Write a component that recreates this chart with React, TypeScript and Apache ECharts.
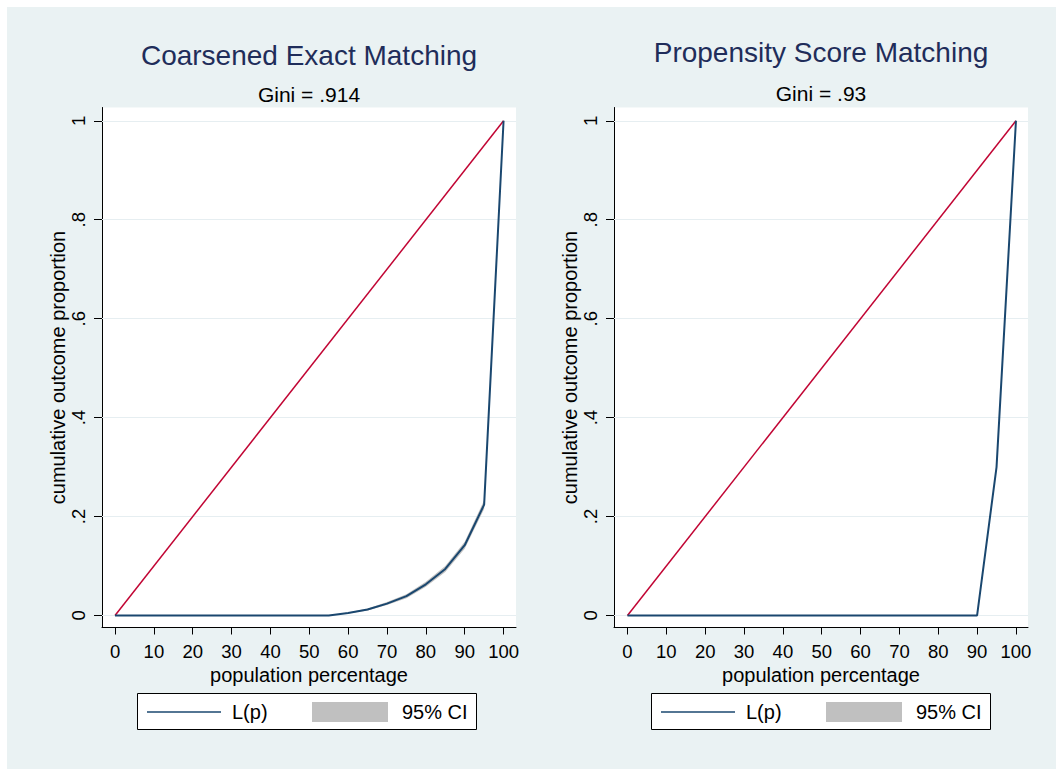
import React, { useEffect, useRef } from "react";
import * as echarts from "echarts";

// ---- data ----
const pct = [0, 5, 10, 15, 20, 25, 30, 35, 40, 45, 50, 55, 60, 65, 70, 75, 80, 85, 90, 95, 100];

const cemL = [0, 0, 0, 0, 0, 0, 0, 0, 0, 0, 0, 0, 0.005, 0.012, 0.024, 0.039, 0.063, 0.094, 0.142, 0.224, 1];
const cemLo = [0, 0, 0, 0, 0, 0, 0, 0, 0, 0, 0, 0, 0.004, 0.010, 0.021, 0.035, 0.058, 0.088, 0.135, 0.215, 1];
const cemHi = [0, 0, 0, 0, 0, 0, 0, 0, 0, 0, 0, 0, 0.006, 0.014, 0.027, 0.043, 0.068, 0.100, 0.149, 0.233, 1];

const psmL = [0, 0, 0, 0, 0, 0, 0, 0, 0, 0, 0, 0, 0, 0, 0, 0, 0, 0, 0, 0.30, 1];
const psmLo = [0, 0, 0, 0, 0, 0, 0, 0, 0, 0, 0, 0, 0, 0, 0, 0, 0, 0, 0, 0.296, 1];
const psmHi = [0, 0, 0, 0, 0, 0, 0, 0, 0, 0, 0, 0, 0, 0, 0, 0, 0, 0, 0, 0.304, 1];

const eqX = [0, 100];
const eqY = [0, 1];

const xTicks = [0, 10, 20, 30, 40, 50, 60, 70, 80, 90, 100];
const yTicks = [0, 0.2, 0.4, 0.6, 0.8, 1];

const titles = ["Coarsened Exact Matching", "Propensity Score Matching"];
const subtitles = ["Gini = .914", "Gini = .93"];
const xName = "population percentage";
const yName = "cumulative outcome proportion";
const legendNames = ["L(p)", "95% CI"];

// ---- styles ----
const FONT = "Liberation Sans, Arial, sans-serif";
const NAVY = "#1a476f";
const RED = "#c10534";
const BAND = "#c0c0c0";
const BG = "#eaf2f3";
const GRIDLINE = "#e6eef1";
const TITLE_COLOR = "#1f2d5a";

const panels = [
  { L: cemL, lo: cemLo, hi: cemHi, left: 102, xmin: -3.35, xmax: 103.2, titleX: 309, titleY: 55, subY: 94, legX: 137 },
  { L: psmL, lo: psmLo, hi: psmHi, left: 614, xmin: -3.47, xmax: 103.1, titleX: 821, titleY: 52, subY: 93, legX: 651 },
];

const yFmt = (v: number) => {
  if (v === 0) return "0";
  if (v === 1) return "1";
  return v.toFixed(1).replace(/^0/, "");
};

function buildOption() {
  const grid: any[] = [];
  const xAxis: any[] = [];
  const yAxis: any[] = [];
  const series: any[] = [];
  const graphic: any[] = [];

  panels.forEach((p, i) => {
    grid.push({
      left: p.left,
      top: 107.5,
      width: 414,
      height: 520,
      show: true,
      backgroundColor: "#ffffff",
      borderWidth: 0,
    });
    xAxis.push({
      type: "value",
      gridIndex: i,
      min: p.xmin,
      max: p.xmax,
      axisLine: { onZero: false, lineStyle: { color: "#000", width: 1 } },
      axisTick: { customValues: xTicks, length: 7, lineStyle: { color: "#000" } },
      axisLabel: { customValues: xTicks, margin: 14, fontSize: 18.5, color: "#000", fontFamily: FONT },
      splitLine: { show: false },
      name: xName,
      nameLocation: "middle",
      nameGap: 26,
      nameTextStyle: { fontSize: 20, color: "#000", fontFamily: FONT },
    });
    yAxis.push({
      type: "value",
      gridIndex: i,
      min: -0.0243,
      max: 1.0269,
      axisLine: { onZero: false, lineStyle: { color: "#000", width: 1 } },
      axisTick: { customValues: yTicks, length: 8, lineStyle: { color: "#000" } },
      axisLabel: {
        customValues: yTicks,
        rotate: 90,
        margin: 14,
        fontSize: 18.5,
        color: "#000",
        fontFamily: FONT,
        formatter: yFmt,
      },
      splitLine: { show: false },
      name: yName,
      nameLocation: "middle",
      nameGap: 31,
      nameTextStyle: { fontSize: 20, color: "#000", fontFamily: FONT },
    });

    // gridlines
    series.push({
      type: "line",
      xAxisIndex: i,
      yAxisIndex: i,
      data: eqX.map((x, k) => [x, eqY[k]]),
      symbol: "none",
      lineStyle: { opacity: 0, width: 0 },
      silent: true,
      z: 1,
      markLine: {
        z: 1,
        silent: true,
        symbol: ["none", "none"],
        label: { show: false },
        lineStyle: { color: GRIDLINE, width: 1, type: "solid" },
        data: yTicks.map((v) => ({ yAxis: v })),
      },
    });
    // CI band as polygon through the axes' scales
    const lo = p.lo;
    const hi = p.hi;
    series.push({
      type: "custom",
      xAxisIndex: i,
      yAxisIndex: i,
      silent: true,
      z: 2,
      data: [[0, 0]],
      renderItem: (params: any, api: any) => {
        const upper = pct.map((x, k) => api.coord([x, hi[k]]));
        const lower = pct.map((x, k) => api.coord([x, lo[k]])).reverse();
        return {
          type: "polygon",
          shape: { points: upper.concat(lower) },
          style: { fill: BAND, lineWidth: 0 },
        };
      },
    });
    // equality line
    series.push({
      type: "line",
      xAxisIndex: i,
      yAxisIndex: i,
      data: eqX.map((x, k) => [x, eqY[k]]),
      symbol: "none",
      lineStyle: { color: RED, width: 1.5 },
      silent: true,
      z: 3,
    });
    // Lorenz curve
    series.push({
      type: "line",
      xAxisIndex: i,
      yAxisIndex: i,
      data: pct.map((x, k) => [x, p.L[k]]),
      symbol: "none",
      lineStyle: { color: NAVY, width: 2 },
      silent: true,
      z: 4,
    });

    // titles
    graphic.push({
      type: "text",
      x: p.titleX,
      y: p.titleY,
      style: {
        text: titles[i],
        fill: TITLE_COLOR,
        font: `28px ${FONT}`,
        textAlign: "center",
        textVerticalAlign: "middle",
      },
    });
    graphic.push({
      type: "text",
      x: p.titleX,
      y: p.subY,
      style: {
        text: subtitles[i],
        fill: "#000",
        font: `21px ${FONT}`,
        textAlign: "center",
        textVerticalAlign: "middle",
      },
    });

    // legend
    const lx = p.legX;
    graphic.push({
      type: "rect",
      shape: { x: lx + 0.5, y: 693.5, width: 339, height: 36 },
      style: { fill: "#fff", stroke: "#000", lineWidth: 1 },
    });
    graphic.push({
      type: "line",
      shape: { x1: lx + 10, y1: 712, x2: lx + 84, y2: 712 },
      style: { stroke: NAVY, lineWidth: 1.5 },
    });
    graphic.push({
      type: "text",
      x: lx + 95,
      y: 712,
      style: { text: legendNames[0], fill: "#000", font: `20px ${FONT}`, textAlign: "left", textVerticalAlign: "middle" },
    });
    graphic.push({
      type: "rect",
      shape: { x: lx + 175, y: 702, width: 76, height: 20 },
      style: { fill: BAND },
    });
    graphic.push({
      type: "text",
      x: lx + 265,
      y: 712,
      style: { text: legendNames[1], fill: "#000", font: `20px ${FONT}`, textAlign: "left", textVerticalAlign: "middle" },
    });
  });

  return {
    animation: false,
    backgroundColor: BG,
    grid,
    xAxis,
    yAxis,
    series,
    graphic,
  };
}

export default function App() {
  const ref = useRef<HTMLDivElement>(null);
  useEffect(() => {
    const chart = echarts.init(ref.current!, null, { renderer: "svg" });
    chart.setOption(buildOption());
    return () => chart.dispose();
  }, []);
  return (
    <div style={{ position: "fixed", left: 0, top: 0, width: 1056, height: 769, background: "#fff" }}>
      <div ref={ref} style={{ position: "absolute", left: 0, top: 0, width: 1056, height: 769 }} />
      <div style={{ position: "absolute", left: 0, top: 0, width: 1056, height: 7, background: "#fff" }} />
      <div style={{ position: "absolute", left: 0, top: 0, width: 7, height: 769, background: "#fff" }} />
    </div>
  );
}
